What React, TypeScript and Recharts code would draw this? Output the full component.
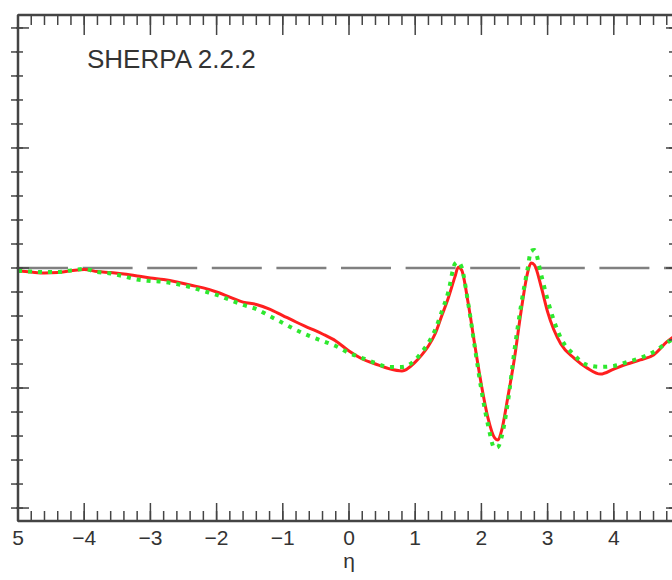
import React from 'react';
import { LineChart, Line, XAxis, YAxis, ReferenceLine, Label } from 'recharts';

// pseudorapidity sample points
const eta = [
  -5, -4.8, -4.6, -4.4, -4.2, -4, -3.8, -3.6, -3.4, -3.2, -3, -2.8, -2.6, -2.4, -2.2, -2,
  -1.8, -1.6, -1.4, -1.2, -1, -0.8, -0.6, -0.4, -0.2, 0, 0.2, 0.4, 0.6, 0.8, 1,
  1.1, 1.2, 1.3, 1.4, 1.5, 1.6, 1.65, 1.7, 1.8, 1.9, 2, 2.1, 2.2, 2.25, 2.3, 2.4, 2.5,
  2.6, 2.7, 2.75, 2.8, 2.9, 3, 3.2, 3.4, 3.6, 3.8, 4, 4.2, 4.4, 4.6, 4.8, 5,
];

// solid red ratio
const solidRatio = [
  0.9988, 0.9983, 0.9979, 0.9981, 0.9988, 0.9994, 0.9985, 0.9981, 0.9975, 0.9967, 0.9958, 0.9952, 0.9942, 0.9929, 0.9917, 0.99,
  0.9879, 0.9858, 0.9848, 0.9829, 0.9802, 0.9775, 0.975, 0.9725, 0.9696, 0.9654, 0.9621, 0.96, 0.9581, 0.9571, 0.9608,
  0.9638, 0.9675, 0.9725, 0.98, 0.9875, 0.9963, 1.0003, 0.9992, 0.9854, 0.9679, 0.9513, 0.9375, 0.9292, 0.9283, 0.9317, 0.9463, 0.9625,
  0.9821, 0.9983, 1.0021, 1.0013, 0.9925, 0.9817, 0.9683, 0.9625, 0.9583, 0.9558, 0.9579, 0.96, 0.9617, 0.9638, 0.9692, 0.9733,
];

// dotted green ratio
const dottedRatio = [
  0.9988, 0.9985, 0.9983, 0.9983, 0.999, 0.9996, 0.9983, 0.9977, 0.9965, 0.9952, 0.9946, 0.9942, 0.9933, 0.9921, 0.9904, 0.9888,
  0.9867, 0.9846, 0.9829, 0.98, 0.9771, 0.9742, 0.9717, 0.9696, 0.9675, 0.9646, 0.9625, 0.9604, 0.9588, 0.9588, 0.9617,
  0.965, 0.9688, 0.9742, 0.9817, 0.99, 1.0017, 1.0025, 1.0004, 0.9854, 0.9671, 0.9492, 0.9346, 0.925, 0.9254, 0.929, 0.9442, 0.9658,
  0.9846, 1.0, 1.0071, 1.0075, 0.9975, 0.9867, 0.9708, 0.9638, 0.9596, 0.9588, 0.9592, 0.9608, 0.9625, 0.965, 0.9688, 0.9721,
];

const xMajorTicks = [-5, -4, -3, -2, -1, 0, 1, 2, 3, 4, 5];
const xTickLabels = ['5', '\u22124', '\u22123', '\u22122', '\u22121', '0', '1', '2', '3', '4', ''];
const xMinorTicks = Array.from({ length: 51 }, (_, i) => Math.round((-5 + i * 0.2) * 10) / 10);

const yMajorTicks = [0.9, 0.95, 1, 1.05, 1.1];
const yMinorTicks = Array.from({ length: 21 }, (_, i) => Math.round((0.9 + i * 0.01) * 100) / 100);

const xDomain = [-5, 5];
const yDomain = [0.8946, 1.1054];

const rows = eta.map((e, i) => ({ eta: e, solid: solidRatio[i], dotted: dottedRatio[i] }));

const axisColor = '#444';
const font = '"Liberation Sans", Arial, sans-serif';
const tickLine = { stroke: axisColor, strokeWidth: 1.5 };
const frameLine = { stroke: axisColor, strokeWidth: 2.5 };

// tick={false} drops the tick lines too, so unlabelled axes get an empty label instead
const NoLabel = () => <g />;

const formatEta = (v: number) => {
  const idx = xMajorTicks.indexOf(v);
  return idx >= 0 ? xTickLabels[idx] : '';
};

export default function App() {
  return (
    <div
      style={{
        position: 'fixed',
        left: 0,
        top: 0,
        width: 672,
        height: 580,
        overflow: 'hidden',
        background: '#fff',
      }}
    >
      {/* axes are 1px thick boxes so they still render; margins compensate */}
      <LineChart
        width={700}
        height={580}
        data={rows}
        margin={{ top: 13, right: 18, bottom: 57, left: 15 }}
      >
        {/* bottom axis: labelled majors + short minors, ticks pointing in */}
        <XAxis
          xAxisId="x"
          dataKey="eta"
          type="number"
          domain={xDomain}
          allowDataOverflow
          ticks={xMajorTicks}
          interval={0}
          height={1}
          tickSize={-18}
          tickMargin={27}
          tickFormatter={formatEta}
          tick={{ fill: '#333', fontSize: 21, fontFamily: font }}
          tickLine={tickLine}
          axisLine={frameLine}
        >
          <Label
            value="η"
            position="bottom"
            offset={31}
            style={{ fill: '#333', fontSize: 21, fontFamily: font }}
          />
        </XAxis>
        <XAxis
          xAxisId="xMinor"
          dataKey="eta"
          type="number"
          domain={xDomain}
          allowDataOverflow
          ticks={xMinorTicks}
          interval={0}
          height={1}
          tickSize={-11}
          tick={NoLabel}
          tickLine={tickLine}
          axisLine={false}
        />
        {/* top frame */}
        <XAxis
          xAxisId="xTop"
          orientation="top"
          dataKey="eta"
          type="number"
          domain={xDomain}
          allowDataOverflow
          ticks={xMajorTicks}
          interval={0}
          height={1}
          tickSize={-20}
          tick={NoLabel}
          tickLine={tickLine}
          axisLine={frameLine}
        />
        <XAxis
          xAxisId="xTopMinor"
          orientation="top"
          dataKey="eta"
          type="number"
          domain={xDomain}
          allowDataOverflow
          ticks={xMinorTicks}
          interval={0}
          height={1}
          tickSize={-11}
          tick={NoLabel}
          tickLine={tickLine}
          axisLine={false}
        />

        {/* left frame: ticks cross the axis line */}
        <YAxis
          yAxisId="left"
          type="number"
          domain={yDomain}
          allowDataOverflow
          ticks={yMinorTicks}
          interval={0}
          width={1}
          tickSize={7}
          tick={NoLabel}
          tickLine={tickLine}
          axisLine={frameLine}
        />
        <YAxis
          yAxisId="leftMinorIn"
          type="number"
          domain={yDomain}
          allowDataOverflow
          ticks={yMinorTicks}
          interval={0}
          width={1}
          tickSize={-7}
          tick={NoLabel}
          tickLine={tickLine}
          axisLine={false}
        />
        <YAxis
          yAxisId="leftMajorIn"
          type="number"
          domain={yDomain}
          allowDataOverflow
          ticks={yMajorTicks}
          interval={0}
          width={1}
          tickSize={-12}
          tick={NoLabel}
          tickLine={tickLine}
          axisLine={false}
        />
        {/* right frame */}
        <YAxis
          yAxisId="right"
          orientation="right"
          type="number"
          domain={yDomain}
          allowDataOverflow
          ticks={yMinorTicks}
          interval={0}
          width={1}
          tickSize={-11}
          tick={NoLabel}
          tickLine={tickLine}
          axisLine={frameLine}
        />
        <YAxis
          yAxisId="rightMajor"
          orientation="right"
          type="number"
          domain={yDomain}
          allowDataOverflow
          ticks={yMajorTicks}
          interval={0}
          width={1}
          tickSize={-15}
          tick={NoLabel}
          tickLine={tickLine}
          axisLine={false}
        />

        <ReferenceLine
          xAxisId="x"
          yAxisId="left"
          y={1}
          stroke="#808080"
          strokeWidth={2.5}
          strokeDasharray="50 14.6"
        />
        <Line
          xAxisId="x"
          yAxisId="left"
          type="monotone"
          dataKey="solid"
          stroke="#ff1f1f"
          strokeWidth={3}
          dot={false}
          isAnimationActive={false}
        />
        <Line
          xAxisId="x"
          yAxisId="left"
          type="monotone"
          dataKey="dotted"
          stroke="#2ee82e"
          strokeWidth={4}
          strokeDasharray="4 6"
          dot={false}
          isAnimationActive={false}
        />
        <text x={87} y={68} fill="#333" fontSize={26} fontFamily={font}>
          SHERPA 2.2.2
        </text>
      </LineChart>
    </div>
  );
}
